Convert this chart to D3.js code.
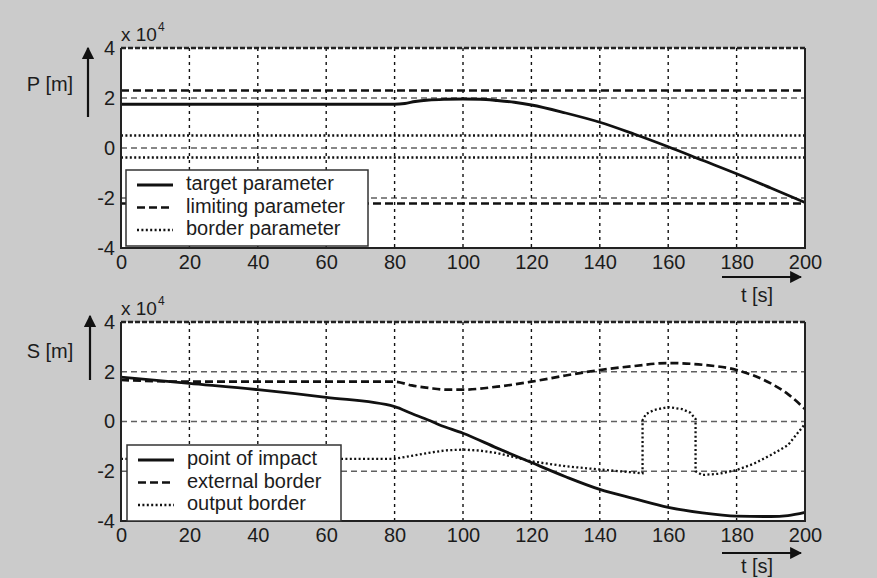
<!DOCTYPE html>
<html>
<head>
<meta charset="utf-8">
<script src="https://cdn.jsdelivr.net/npm/d3@7/dist/d3.min.js"></script>
<style>
  body { margin: 0; background: #cbcbcb; }
  text { font-family: "Liberation Sans", Arial, sans-serif; fill: #1c1c1c; }
</style>
</head>
<body>
<svg id="chart" width="877" height="578"></svg>
<script>
// ---- data (values in units of 10^4 m, time in s) ----
const timeTicks = [0, 20, 40, 60, 80, 100, 120, 140, 160, 180, 200];
const valueTicks = [-4, -2, 0, 2, 4];

// top panel: P [m]
const targetT = [0, 80, 83, 86, 90, 95, 100, 105, 110, 115, 120, 130, 140, 150, 160, 170, 180, 190, 200];
const targetP = [1.75, 1.75, 1.78, 1.86, 1.92, 1.95, 1.96, 1.95, 1.9, 1.83, 1.72, 1.4, 1.03, 0.56, 0.05, -0.49, -1.03, -1.6, -2.18];
const limitT = [0, 200];
const limitUpper = [2.3, 2.3];
const limitLower = [-2.22, -2.22];
const borderUpper = [0.5, 0.5];
const borderLower = [-0.38, -0.38];

// bottom panel: S [m]
const impactT = [0, 20, 40, 60, 80, 85, 90, 93, 100, 110, 120, 130, 140, 150, 160, 170, 180, 190, 195, 200];
const impactS = [1.78, 1.53, 1.28, 0.97, 0.6, 0.32, 0.05, -0.13, -0.47, -1.07, -1.65, -2.22, -2.73, -3.1, -3.45, -3.67, -3.8, -3.82, -3.78, -3.65];
const externalT = [0, 10, 20, 40, 60, 80, 85, 90, 95, 100, 110, 120, 130, 140, 150, 160, 170, 180, 190, 195, 200];
const externalS = [1.67, 1.62, 1.6, 1.6, 1.6, 1.6, 1.45, 1.35, 1.28, 1.28, 1.4, 1.6, 1.85, 2.07, 2.23, 2.35, 2.28, 2.07, 1.53, 1.1, 0.5];
const outputT = [0, 80, 85, 90, 95, 100, 105, 110, 120, 130, 140, 150, 152.5, 152.5, 153.5, 156, 160, 164, 166.5, 168, 168, 170, 175, 180, 185, 190, 195, 200];
const outputS = [-1.5, -1.5, -1.38, -1.26, -1.16, -1.13, -1.17, -1.27, -1.6, -1.8, -1.93, -2.05, -2.08, 0.05, 0.3, 0.47, 0.58, 0.5, 0.35, 0.1, -2.0, -2.15, -2.1, -1.95, -1.7, -1.35, -0.95, -0.1];

const styles = {
  solid:  { width: 2.8, dash: null },
  dashed: { width: 2.7, dash: "8,4" },
  dotted: { width: 2.3, dash: "2,2.4" }
};

const panels = [
  {
    top: 48, bottom: 248, yLabel: "P [m]", labelY: 86, arrowTop: 48, arrowBottom: 117, arrowX: 88,
    timeLabelY: 297, timeArrowY: 277,
    legend: { x: 126, y: 170, w: 242, h: 76 },
    series: [
      { name: "target parameter", t: targetT, v: targetP, style: "solid", legend: true, smooth: true },
      { name: "limiting parameter", t: limitT, v: limitUpper, style: "dashed", legend: true },
      { name: "limiting lower", t: limitT, v: limitLower, style: "dashed" },
      { name: "border parameter", t: limitT, v: borderUpper, style: "dotted", legend: true },
      { name: "border lower", t: limitT, v: borderLower, style: "dotted" }
    ]
  },
  {
    top: 322, bottom: 521, yLabel: "S [m]", labelY: 353, arrowTop: 316, arrowBottom: 380, arrowX: 90,
    timeLabelY: 568, timeArrowY: 553,
    legend: { x: 127, y: 445, w: 214, h: 76 },
    series: [
      { name: "point of impact", t: impactT, v: impactS, style: "solid", legend: true, smooth: true },
      { name: "external border", t: externalT, v: externalS, style: "dashed", legend: true, smooth: true },
      { name: "output border", t: outputT, v: outputS, style: "dotted", legend: true }
    ]
  }
];

const left = 121, right = 805;
const svg = d3.select("#chart");

svg.append("defs").append("marker")
  .attr("id", "arrow")
  .attr("viewBox", "0 0 10 10")
  .attr("refX", 9).attr("refY", 5)
  .attr("markerWidth", 5.5).attr("markerHeight", 5.5)
  .attr("markerUnits", "strokeWidth")
  .attr("orient", "auto")
  .append("path")
  .attr("d", "M0,0L10,5L0,10z")
  .attr("fill", "#111");

panels.forEach(p => {
  const x = d3.scaleLinear().domain([0, 200]).range([left, right]);
  const y = d3.scaleLinear().domain([-4, 4]).range([p.bottom, p.top]);
  const g = svg.append("g");

  // plot area
  g.append("rect")
    .attr("x", left).attr("y", p.top)
    .attr("width", right - left).attr("height", p.bottom - p.top)
    .attr("fill", "#fff");

  // grid: horizontal dashed grey, vertical dotted black
  g.selectAll(".hgrid")
    .data(valueTicks.filter(d => d > -4 && d < 4))
    .enter().append("line")
    .attr("x1", left).attr("x2", right)
    .attr("y1", d => y(d)).attr("y2", d => y(d))
    .attr("stroke", "#606060").attr("stroke-width", 1.4)
    .attr("stroke-dasharray", "6,4");
  g.selectAll(".vgrid")
    .data(timeTicks.filter(d => d > 0 && d < 200))
    .enter().append("line")
    .attr("x1", d => x(d)).attr("x2", d => x(d))
    .attr("y1", p.top).attr("y2", p.bottom)
    .attr("stroke", "#111").attr("stroke-width", 1.4)
    .attr("stroke-dasharray", "3,4");

  // series
  p.series.forEach(s => {
    const st = styles[s.style];
    const line = d3.line()
      .x(d => x(d[0])).y(d => y(d[1]))
      .curve(s.smooth ? d3.curveMonotoneX : d3.curveLinear);
    g.append("path")
      .datum(s.t.map((t, i) => [t, s.v[i]]))
      .attr("fill", "none")
      .attr("stroke", "#111")
      .attr("stroke-width", st.width)
      .attr("stroke-dasharray", st.dash)
      .attr("d", line);
  });

  // frame
  g.append("path")
    .attr("d", `M${left},${p.top}V${p.bottom}H${right}V${p.top}`)
    .attr("fill", "none").attr("stroke", "#222").attr("stroke-width", 2);
  g.append("line")
    .attr("x1", left).attr("x2", right).attr("y1", p.top).attr("y2", p.top)
    .attr("stroke", "#222").attr("stroke-width", 2.4).attr("stroke-dasharray", "5,2");

  // axes (labels only)
  const xAxis = g.append("g")
    .attr("transform", `translate(0,${p.bottom})`)
    .call(d3.axisBottom(x).tickValues(timeTicks).tickSize(0).tickPadding(7));
  xAxis.select(".domain").remove();
  xAxis.selectAll("text").attr("font-size", 20).attr("fill", "#1c1c1c");

  const yAxis = g.append("g")
    .attr("transform", `translate(${left},0)`)
    .call(d3.axisLeft(y).tickValues(valueTicks).tickFormat(d => String(d)).tickSize(0).tickPadding(6));
  yAxis.select(".domain").remove();
  yAxis.selectAll("text").attr("font-size", 20).attr("fill", "#1c1c1c");

  // x 10^4 exponent label
  const ex = g.append("text")
    .attr("x", left).attr("y", p.top - 7)
    .attr("font-size", 19);
  ex.append("tspan").text("x 10");
  ex.append("tspan").attr("dy", -10).attr("dx", 1).attr("font-size", 12).text("4");

  // y label with arrow
  g.append("text")
    .attr("x", 50).attr("y", p.labelY)
    .attr("text-anchor", "middle").attr("dominant-baseline", "middle")
    .attr("font-size", 20)
    .text(p.yLabel);
  g.append("line")
    .attr("x1", p.arrowX).attr("x2", p.arrowX)
    .attr("y1", p.arrowBottom).attr("y2", p.arrowTop)
    .attr("stroke", "#111").attr("stroke-width", 2.2)
    .attr("marker-end", "url(#arrow)");

  // t label with arrow
  g.append("line")
    .attr("x1", 722).attr("x2", 801)
    .attr("y1", p.timeArrowY).attr("y2", p.timeArrowY)
    .attr("stroke", "#111").attr("stroke-width", 2.2)
    .attr("marker-end", "url(#arrow)");
  g.append("text")
    .attr("x", 757).attr("y", p.timeLabelY)
    .attr("text-anchor", "middle").attr("dominant-baseline", "middle")
    .attr("font-size", 20)
    .text("t [s]");

  // legend
  const L = p.legend;
  const lg = g.append("g").attr("transform", `translate(${L.x},${L.y})`);
  lg.append("rect")
    .attr("width", L.w).attr("height", L.h)
    .attr("fill", "#fff").attr("stroke", "#333").attr("stroke-width", 1.5);
  const items = p.series.filter(s => s.legend);
  items.forEach((s, i) => {
    const cy = 15 + i * 22.5;
    const st = styles[s.style];
    lg.append("line")
      .attr("x1", 11).attr("x2", 47).attr("y1", cy).attr("y2", cy)
      .attr("stroke", "#111").attr("stroke-width", st.width)
      .attr("stroke-dasharray", st.dash);
    lg.append("text")
      .attr("x", 60).attr("y", cy)
      .attr("dominant-baseline", "middle")
      .attr("font-size", 20)
      .text(s.name);
  });
});
</script>
</body>
</html>
